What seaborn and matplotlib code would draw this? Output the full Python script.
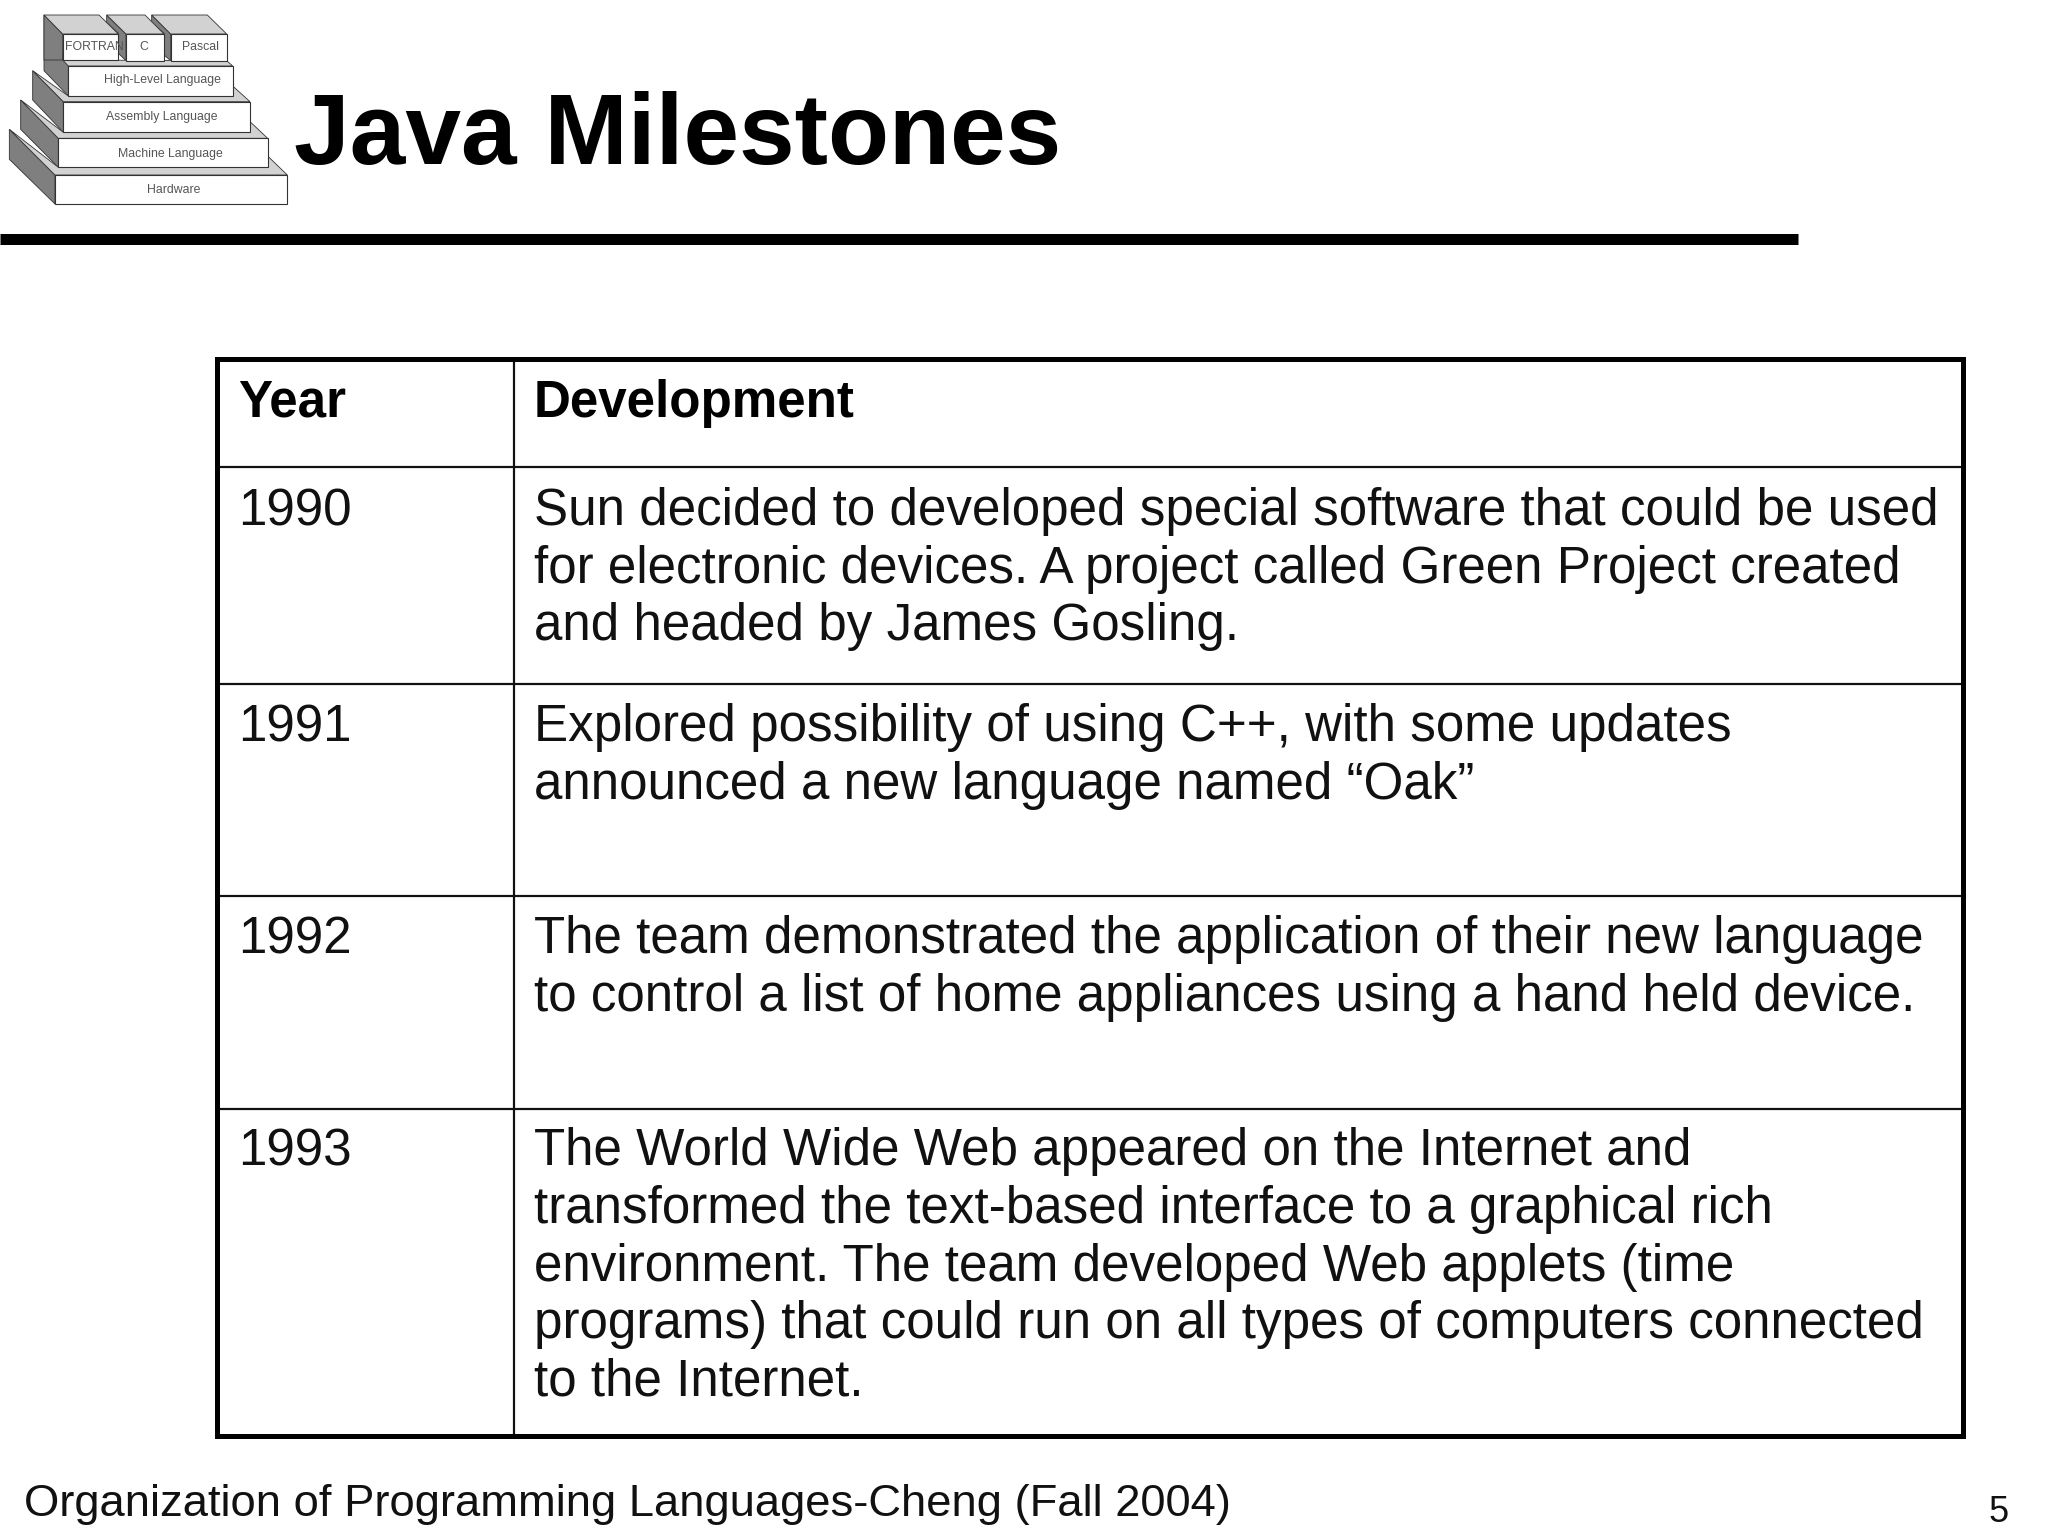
#!/usr/bin/env python

import numpy as np
import pandas as pd
import matplotlib.pyplot as plt
import seaborn as sns
from matplotlib.patches import Polygon, Rectangle

sns.set_theme(style='white')
plt.rcParams['font.family'] = ['Liberation Sans', 'DejaVu Sans']

title = 'Java Milestones'
footer = 'Organization of Programming Languages-Cheng (Fall 2004)'
page = '5'
col_heads = ['Year', 'Development']
years = ['1990', '1991', '1992', '1993']
developments = [
    ['Sun decided to developed special software that could be used',
     'for electronic devices. A project called Green Project created',
     'and headed by James Gosling.'],
    ['Explored possibility of using C++, with some updates',
     'announced a new language named \u201cOak\u201d'],
    ['The team demonstrated the application of their new language',
     'to control a list of home appliances using a hand held device.'],
    ['The World Wide Web appeared on the Internet and',
     'transformed the text-based interface to a graphical rich',
     'environment. The team developed Web applets (time',
     'programs) that could run on all types of computers connected',
     'to the Internet.'],
]
logo_labels = ['FORTRAN', 'C', 'Pascal', 'High-Level Language',
               'Assembly Language', 'Machine Language', 'Hardware']

# layout, in pixels of the 2048x1536 page
tab_l, tab_r, col_x = 217, 1963, 514
row_y = [359, 467, 684, 896, 1109, 1436]
base_y = [416.5, 525, 741.5, 953.5, 1165.5]
line_h = 57.5
x_year, x_dev = 238, 534
body_fs = 36.8


def px(v):
    return v * 0.72


def draw_logo(ax):
    left = [[(28, 388), (165, 525), (165, 612), (28, 478)],
            [(62, 300), (175, 415), (175, 502), (62, 388)],
            [(98, 212), (190, 305), (190, 397), (98, 300)],
            [(132, 45), (205, 198), (205, 288), (132, 212)],
            [(132, 45), (188, 102), (188, 180), (132, 180)],
            [(320, 45), (378, 102), (378, 182), (355, 160), (355, 100), (320, 68)],
            [(455, 45), (512, 102), (512, 182), (492, 165), (492, 100), (455, 68)]]
    top = [[(28, 388), (175, 502), (805, 502), (805, 470), (862, 525), (165, 525)],
           [(62, 300), (190, 397), (750, 397), (750, 365), (803, 415), (175, 415)],
           [(98, 212), (205, 288), (698, 288), (698, 258), (750, 305), (190, 305)],
           [(188, 180), (680, 182), (698, 198), (205, 198)],
           [(132, 45), (297, 45), (355, 102), (188, 102)],
           [(320, 45), (435, 45), (492, 102), (378, 102)],
           [(455, 45), (622, 45), (680, 102), (512, 102)]]
    front = [(165, 525, 862, 612), (175, 415, 805, 502), (190, 305, 750, 397),
             (205, 198, 698, 288), (188, 102, 355, 180), (378, 102, 492, 182),
             (512, 102, 680, 182)]
    label_at = [(284, 142), (430, 142), (602, 142), (487, 240),
                (485, 350), (510, 462), (522, 571)]
    for pts, col in [(p, '#7f7f7f') for p in left] + [(p, '#d2d2d2') for p in top]:
        ax.add_patch(Polygon(np.array(pts) / 3., closed=True, fc=col,
                             ec='#333333', lw=0.6, zorder=2))
    for x0, y0, x1, y1 in front:
        ax.add_patch(Rectangle((x0 / 3., y0 / 3.), (x1 - x0) / 3., (y1 - y0) / 3.,
                               fc='white', ec='#333333', lw=0.8, zorder=3))
    for lab, (x, y) in zip(logo_labels, label_at):
        ax.text(x / 3., y / 3., lab, fontsize=8.8, color='#555555',
                ha='center', va='center', zorder=4)


fig = plt.figure(figsize=(20.48, 15.36), dpi=100, facecolor='white')
ax = fig.add_axes([0, 0, 1, 1])

# inner table rules go through seaborn, one unit per rule
rules = pd.DataFrame({
    'x': [tab_l, tab_r] * (len(row_y) - 2) + [col_x, col_x],
    'y': [y for y in row_y[1:-1] for _ in (0, 1)] + [row_y[0], row_y[-1]],
    'rule': [i for i in range(len(row_y) - 2) for _ in (0, 1)] + [99, 99],
})
sns.lineplot(data=rules, x='x', y='y', units='rule', estimator=None, sort=False,
             color='#111111', linewidth=px(2.2), ax=ax, legend=False)

ax.add_patch(Rectangle((tab_l, row_y[0]), tab_r - tab_l, row_y[-1] - row_y[0],
                       fc='none', ec='black', lw=px(5), zorder=3))
ax.plot([0, 1798], [239, 239], color='black', lw=px(11),
        solid_capstyle='butt')

ax.set_xlim(0, 2048)
ax.set_ylim(1536, 0)
ax.axis('off')

draw_logo(ax)

ax.text(294.5, 164, title, fontsize=72, fontweight='bold', color='black',
        va='baseline')

ax.text(x_year, base_y[0], col_heads[0], fontsize=body_fs, fontweight='bold',
        color='black', va='baseline')
ax.text(x_dev, base_y[0], col_heads[1], fontsize=body_fs, fontweight='bold',
        color='black', va='baseline')
for yr, lines, y0 in zip(years, developments, base_y[1:]):
    ax.text(x_year, y0, yr, fontsize=body_fs, color='#111111', va='baseline')
    for i, line in enumerate(lines):
        ax.text(x_dev, y0 + i * line_h, line, fontsize=body_fs, color='#111111',
                va='baseline')

ax.text(24, 1516, footer, fontsize=32.65, color='#111111', va='baseline')
ax.text(1988, 1522, page, fontsize=26, color='#111111', va='baseline')

fig.savefig('out.png', dpi=100)
plt.close(fig)
